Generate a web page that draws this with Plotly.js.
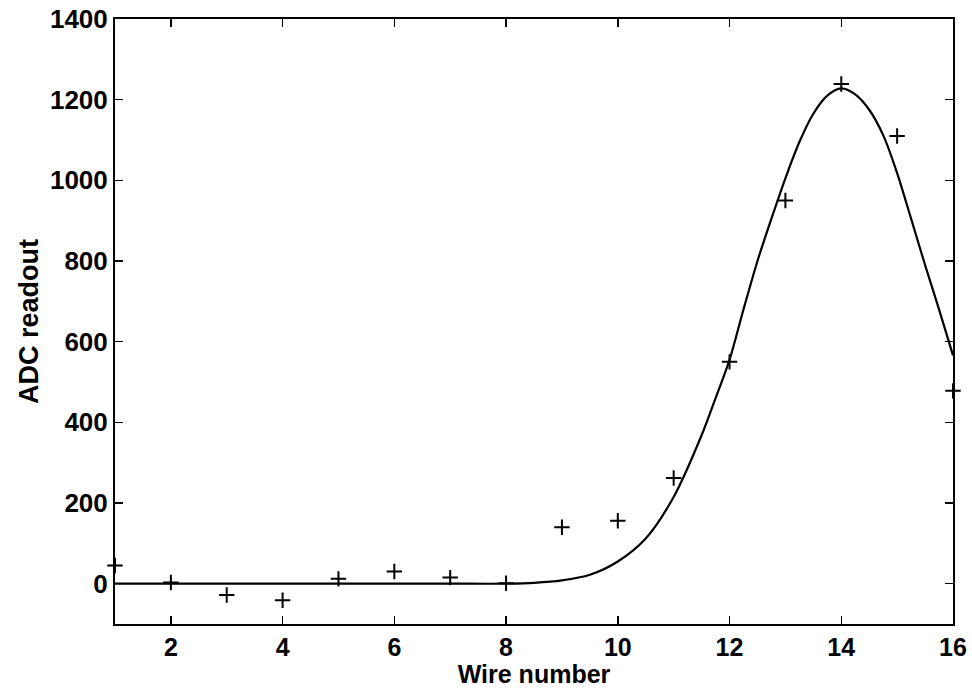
<!DOCTYPE html>
<html>
<head>
<meta charset="utf-8">
<script src="https://cdn.plot.ly/plotly-3.0.1.min.js"></script>
<style>html,body{margin:0;padding:0;background:#fff}#chart{width:972px;height:688px}</style>
</head>
<body>
<div id="chart"></div>
<script>
// Measured ADC readout per wire
var wires = [1, 2, 3, 4, 5, 6, 7, 8, 9, 10, 11, 12, 13, 14, 15, 16];
var adc = [45, 3, -28, -41, 12, 30, 15, 1, 140, 156, 262, 550, 950, 1239, 1110, 478];

// Fitted curve
var fitX = [1, 2, 3, 4, 5, 6, 7, 8, 8.5, 9, 9.5, 10, 10.5, 11, 11.5, 11.75, 12, 12.25, 12.5, 12.75, 13, 13.25, 13.5, 13.75, 14, 14.25, 14.5, 14.75, 15, 15.25, 15.5, 15.75, 16];
var fitY = [0, 0, 0, 0, 0, 0, 0, 0, 2, 8, 22, 55, 112, 215, 368, 460, 555, 680, 800, 905, 1005, 1095, 1165, 1210, 1228, 1213, 1175, 1112, 1018, 905, 790, 680, 566];

var xTicks = [2, 4, 6, 8, 10, 12, 14, 16];
var yTicks = [0, 200, 400, 600, 800, 1000, 1200, 1400];

var fam = 'Liberation Sans, Arial, sans-serif';

var traces = [
  {
    x: fitX, y: fitY, type: 'scatter', mode: 'lines',
    line: {color: '#000', width: 2.2, shape: 'spline', smoothing: 0.8},
    hoverinfo: 'skip'
  },
  {
    x: wires, y: adc, type: 'scatter', mode: 'markers',
    marker: {symbol: 'cross-thin', size: 11, color: '#000', line: {color: '#000', width: 2}},
    cliponaxis: false
  }
];

var axisCommon = {
  showline: true, linecolor: '#000', linewidth: 2, mirror: 'ticks',
  ticks: 'inside', ticklen: 8, tickwidth: 1.5, tickcolor: '#000',
  showgrid: false, zeroline: false,
  tickfont: {family: fam, size: 26, color: '#000', weight: 'bold'}
};

var layout = {
  width: 972, height: 688,
  margin: {l: 115, r: 19, t: 19, b: 64},
  paper_bgcolor: '#fff', plot_bgcolor: '#fff',
  showlegend: false,
  font: {family: fam, color: '#000'},
  xaxis: Object.assign({}, axisCommon, {
    range: [1, 16], tickvals: xTicks, ticktext: xTicks.map(String),
    tickfont: {family: fam, size: 25, color: '#000', weight: 'bold'},
    title: {text: '<b>Wire number</b>', font: {family: fam, size: 25, color: '#000'}, standoff: 8}
  }),
  yaxis: Object.assign({}, axisCommon, {
    range: [-100, 1400], tickvals: yTicks, ticktext: yTicks.map(String),
    title: {text: '<b>ADC readout</b>', font: {family: fam, size: 27, color: '#000'}, standoff: 4}
  })
};

Plotly.newPlot('chart', traces, layout, {displayModeBar: false, staticPlot: true});
</script>
</body>
</html>
